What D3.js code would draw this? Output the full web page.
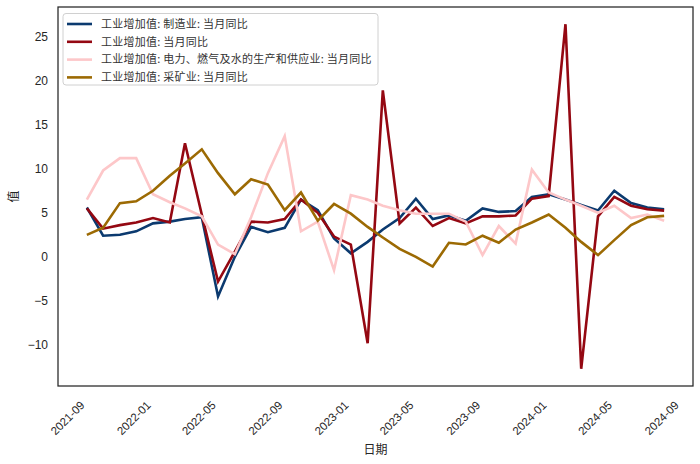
<!DOCTYPE html>
<html>
<head>
<meta charset="utf-8">
<script src="https://cdn.jsdelivr.net/npm/d3@7"></script>
<style>
  html, body { margin: 0; padding: 0; background: #fff; }
  svg { display: block; }
</style>
</head>
<body>
<svg id="chart" width="700" height="464"></svg>
<script>
// ---- data ----
const months = ["2021-09","2021-10","2021-11","2021-12","2022-01","2022-02","2022-03","2022-04","2022-05","2022-06",
  "2022-07","2022-08","2022-09","2022-10","2022-11","2022-12","2023-01","2023-02","2023-03","2023-04",
  "2023-05","2023-06","2023-07","2023-08","2023-09","2023-10","2023-11","2023-12","2024-01","2024-02",
  "2024-03","2024-04","2024-05","2024-06","2024-07","2024-08"];
const manufacturing = [5.6, 2.4, 2.5, 2.9, 3.8, 4.0, 4.3, 4.5, -4.5, 0.0,
  3.4, 2.8, 3.3, 6.5, 5.3, 2.1, 0.4, 1.7, 3.1, 4.4,
  6.6, 4.3, 4.7, 4.1, 5.5, 5.1, 5.2, 6.8, 7.1, 6.5,
  5.9, 5.25, 7.5, 6.1, 5.6, 5.4];
const total = [5.5, 3.2, 3.6, 3.9, 4.4, 3.9, 12.9, 4.8, -2.8, 0.6,
  4.0, 3.9, 4.3, 6.5, 5.0, 2.3, 1.4, -9.8, 18.9, 3.8,
  5.6, 3.5, 4.4, 3.8, 4.6, 4.6, 4.7, 6.6, 6.9, 26.4,
  -12.7, 4.6, 6.8, 5.8, 5.4, 5.25];
const utilities = [6.5, 9.8, 11.2, 11.2, 7.1, 6.2, 5.5, 4.6, 1.4, 0.3,
  4.5, 9.5, 13.7, 2.9, 4.0, -1.5, 7.0, 6.5, 5.8, 5.3,
  4.9, 4.9, 4.9, 4.0, 0.2, 3.5, 1.5, 9.9, 7.3, 6.5,
  5.8, 5.0, 5.8, 4.4, 4.8, 4.1];
const mining = [2.5, 3.3, 6.1, 6.3, 7.5, 9.2, 10.6, 12.2, 9.5, 7.1,
  8.8, 8.2, 5.3, 7.3, 4.1, 6.0, 4.9, 3.4, 2.2, 0.9,
  0.0, -1.1, 1.6, 1.4, 2.4, 1.6, 3.1, 3.9, 4.8, 3.3,
  1.7, 0.2, 1.9, 3.6, 4.5, 4.65];
const seriesNames = ["工业增加值: 制造业: 当月同比", "工业增加值: 当月同比",
  "工业增加值: 电力、燃气及水的生产和供应业: 当月同比", "工业增加值: 采矿业: 当月同比"];
const seriesColors = ["#0b3a6f", "#940812", "#fdc7c9", "#9c6a03"];
const xTickLabels = ["2021-09","2022-01","2022-05","2022-09","2023-01","2023-05","2023-09","2024-01","2024-05","2024-09"];
const yTicks = [-10, -5, 0, 5, 10, 15, 20, 25];
const xTitle = "日期";
const yTitle = "值";

// ---- layout ----
const svg = d3.select("#chart");
const L = 58, R = 693, T = 7, B = 386;
const parse = d3.timeParse("%Y-%m");
const dates = months.map(parse);

const allSeries = [manufacturing, total, utilities, mining];
const t0 = +dates[0], t1 = +dates[dates.length - 1];
const xm = (t1 - t0) * 0.05;
const x = d3.scaleTime().domain([new Date(t0 - xm), new Date(t1 + xm)]).range([L, R]);
const allVals = allSeries.flat();
const vmin = d3.min(allVals), vmax = d3.max(allVals);
const ym = (vmax - vmin) * 0.05;
const y = d3.scaleLinear().domain([vmin - ym, vmax + ym]).range([B, T]);

const font = "'Liberation Sans', Arial, 'Noto Sans CJK SC', sans-serif";
const cjk = "'Noto Sans CJK SC', 'Liberation Sans', sans-serif";

// lines
const line = d3.line().x((d, i) => x(dates[i])).y(d => y(d));
const g = svg.append("g");
allSeries.forEach((s, k) => {
  g.append("path").datum(s)
    .attr("fill", "none")
    .attr("stroke", seriesColors[k])
    .attr("stroke-width", 2.6)
    .attr("stroke-linejoin", "miter")
    .attr("d", line);
});

// axes
const xAxis = d3.axisBottom(x).tickValues(xTickLabels.map(parse)).tickFormat(d3.timeFormat("%Y-%m")).tickSize(0).tickPadding(0);
const xg = svg.append("g").attr("transform", `translate(0,${B})`).call(xAxis);
xg.select(".domain").remove();
xg.selectAll(".tick text")
  .attr("font-family", font).attr("font-size", 11.5).attr("fill", "#262626")
  .attr("text-anchor", "end")
  .attr("x", 0).attr("y", 0).attr("dy", 0)
  .attr("transform", "translate(-2,20) rotate(-45)");

const yAxis = d3.axisLeft(y).tickValues(yTicks).tickSize(0).tickPadding(10)
  .tickFormat(d => d < 0 ? "\u2212" + Math.abs(d) : d);
const yg = svg.append("g").attr("transform", `translate(${L},0)`).call(yAxis);
yg.select(".domain").remove();
yg.selectAll("text").attr("font-family", font).attr("font-size", 12).attr("fill", "#262626");

// frame
svg.append("rect").attr("x", L).attr("y", T).attr("width", R - L).attr("height", B - T)
  .attr("fill", "none").attr("stroke", "#262626").attr("stroke-width", 1.25);

// titles
svg.append("text").attr("x", (L + R) / 2).attr("y", 454).attr("text-anchor", "middle")
  .attr("font-family", cjk).attr("font-size", 12).attr("fill", "#262626").text(xTitle);
svg.append("text").attr("transform", `translate(18,${(T + B) / 2}) rotate(-90)`).attr("text-anchor", "middle")
  .attr("font-family", cjk).attr("font-size", 12).attr("fill", "#262626").text(yTitle);

// legend
const lg = svg.append("g");
lg.append("rect").attr("x", 63).attr("y", 13.5).attr("width", 315).attr("height", 71.5)
  .attr("rx", 3).attr("fill", "#fff").attr("fill-opacity", 0.85).attr("stroke", "#d0d0d0").attr("stroke-width", 1);
seriesNames.forEach((name, k) => {
  const cy = 24 + k * 17.8;
  lg.append("line").attr("x1", 67).attr("x2", 92).attr("y1", cy).attr("y2", cy)
    .attr("stroke", seriesColors[k]).attr("stroke-width", 2.6);
  lg.append("text").attr("x", 101).attr("y", cy).attr("dy", "0.35em")
    .attr("font-family", cjk).attr("font-size", 11).attr("letter-spacing", 0.25).attr("fill", "#333").text(name);
});
</script>
</body>
</html>
